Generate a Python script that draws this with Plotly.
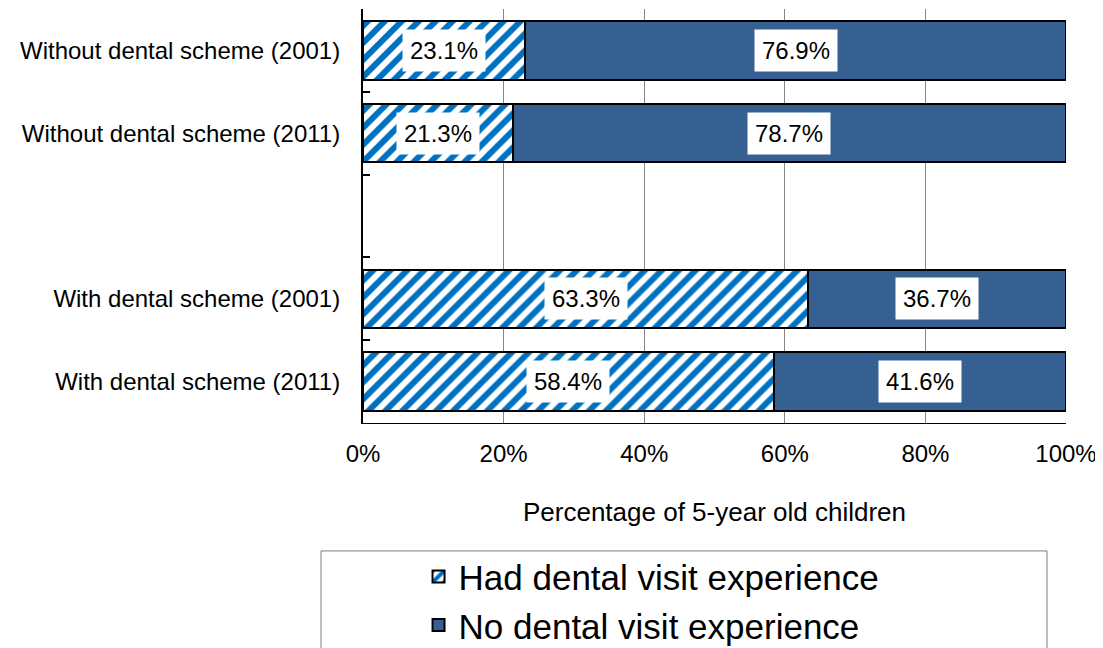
import plotly.graph_objects as go

categories = ["Without dental scheme (2001)", "Without dental scheme (2011)", " ",
              "With dental scheme (2001)", "With dental scheme (2011)"]
had_visit = [23.1, 21.3, None, 63.3, 58.4]
no_visit = [76.9, 78.7, None, 36.7, 41.6]
x_ticks = [0, 20, 40, 60, 80, 100]
x_tick_labels = ["0%", "20%", "40%", "60%", "80%", "100%"]
series_names = ["Had dental visit experience", "No dental visit experience"]

FONT = "Liberation Sans, Arial, sans-serif"

fig = go.Figure()
fig.add_trace(go.Bar(
    y=categories, x=had_visit, orientation="h", name=series_names[0],
    legendgroup="a",
    marker=dict(color="white",
                pattern=dict(shape="/", fgcolor="#0070C0", bgcolor="white",
                             size=12, solidity=0.5, fillmode="replace"),
                line=dict(color="black", width=2)),
    hoverinfo="skip",
))
fig.add_trace(go.Bar(
    y=categories, x=no_visit, orientation="h", name=series_names[1],
    legendgroup="b",
    marker=dict(color="#376092", line=dict(color="black", width=2)),
    hoverinfo="skip",
))

# data labels in white boxes
for cat, h, n in zip(categories, had_visit, no_visit):
    if h is None:
        continue
    for start, val in ((0, h), (h, n)):
        fig.add_annotation(x=start + val / 2, y=cat, xref="x", yref="y",
                           text=f"{val:.1f}%", showarrow=False,
                           font=dict(family=FONT, size=24, color="black"),
                           bgcolor="white", borderpad=7)

# legend frame
fig.add_shape(type="rect", xref="paper", yref="paper",
              x0=-0.0597, x1=0.973, y0=-0.309, y1=-0.75,
              line=dict(color="#7f7f7f", width=1), fillcolor="rgba(0,0,0,0)",
              layer="below")

fig.update_layout(
    barmode="stack", bargap=0.296,
    width=1103, height=648,
    margin=dict(l=355, r=45, t=1, b=233),
    paper_bgcolor="white", plot_bgcolor="white",
    font=dict(family=FONT, size=24, color="black"),
    showlegend=True,
    legend=dict(x=0.079, xref="paper", y=0.168, yref="container",
                xanchor="left", yanchor="top",
                font=dict(family=FONT, size=35, color="black"),
                tracegroupgap=16, bgcolor="rgba(0,0,0,0)", traceorder="normal"),
    xaxis=dict(range=[0, 100], tickmode="array", tickvals=x_ticks,
               ticktext=x_tick_labels,
               showgrid=True, gridcolor="#868686", gridwidth=1,
               showline=True, linecolor="black", linewidth=1,
               ticks="", ticklabelstandoff=9, zeroline=False,
               title=dict(text="Percentage of 5-year old children",
                          font=dict(family=FONT, size=26), standoff=37),
               tickfont=dict(family=FONT, size=24)),
    yaxis=dict(categoryorder="array", categoryarray=categories,
               autorange="reversed", showline=True, linecolor="black",
               linewidth=2, ticks="inside", ticklen=7, tickwidth=2,
               tickcolor="black", tickson="boundaries", showgrid=False,
               ticklabelstandoff=16, tickfont=dict(family=FONT, size=24)),
)

fig.write_html("out.html")
